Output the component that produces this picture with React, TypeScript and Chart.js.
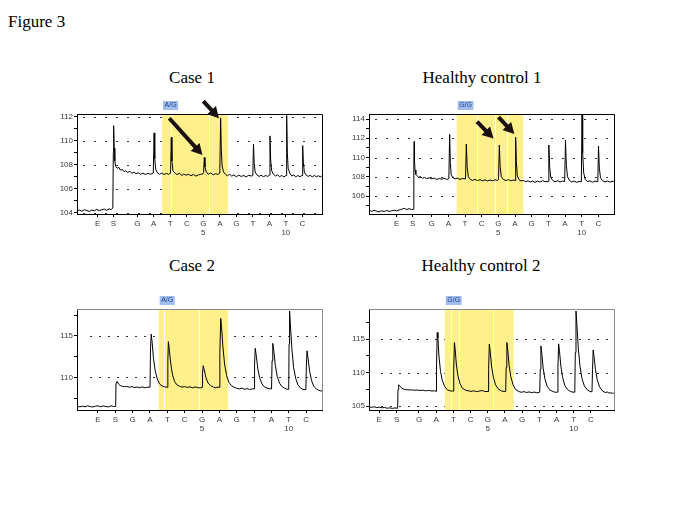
import React, { useEffect, useRef } from 'react';
import { Chart, registerables } from 'chart.js';

Chart.register(...registerables);

type Pt = [number, number];

// ---------- dispensation order (x tick labels) ----------
const dispensationOrder = ['E', 'S', 'G', 'A', 'T', 'C', 'G', 'A', 'G', 'T', 'A', 'T', 'C'];
const dispensationNumber = ['', '', '', '', '', '', '5', '', '', '', '', '10', ''];
const nucleotidePositions = [1, 2, 3, 4, 5, 6, 7, 8, 9, 10, 11];

// enzyme / substrate positions (the software spaces them differently per run)
const case1EnzymeSubstrate = [-1.4, -0.45];
const control1EnzymeSubstrate = [-1.1, -0.14];
const case2EnzymeSubstrate = [-1.0, 0.0];
const control2EnzymeSubstrate = [-1.31, -0.3];

// ---------- genotype calls ----------
const case1Genotype = 'A/G';
const control1Genotype = 'G/G';
const case2Genotype = 'A/G';
const control2Genotype = 'G/G';

// analysed (highlighted) dispensation range and separators inside it
const analysedRegion = [2.5, 6.5];
const case1Separators = [3.05, 5.35];
const control1Separators = [3.73, 4.8, 5.5];
const case2Separators = [2.83, 4.8];
const control2Separators = [2.88, 3.33, 5.28];

// ---------- y ticks ----------
const case1YTicks = [104, 105, 106, 107, 108, 109, 110, 111, 112];
const case1YLabels = [104, 106, 108, 110, 112];
const control1YTicks = [105, 106, 107, 108, 109, 110, 111, 112, 113, 114];
const control1YLabels = [106, 108, 110, 112, 114];
const case2YTicks = [107.5, 110, 112.5, 115, 117.5];
const case2YLabels = [110, 115];
const control2YTicks = [105, 107.5, 110, 112.5, 115, 117.5];
const control2YLabels = [105, 110, 115];

// ---------- arrows [fromX, fromY, toX, toY] in data units ----------
const case1Arrows = [[2.94, 111.87, 4.95, 108.8], [5.0, 113.3, 5.95, 111.87]];
const control1Arrows = [[3.72, 113.72, 4.71, 111.97], [5.01, 114.2, 5.96, 112.44]];

// ---------- pyrogram traces [x, signal] ----------
const case1Trace: Pt[] = [
  [-2.62, 104.15], [-2.5, 104.22], [-2.35, 104.12], [-2.2, 104.25], [-2.05, 104.18], [-1.9, 104.1],
  [-1.75, 104.22], [-1.6, 104.16], [-1.45, 104.28], [-1.3, 104.17], [-1.15, 104.24], [-1.0, 104.3],
  [-0.85, 104.2], [-0.7, 104.32], [-0.58, 104.26], [-0.48, 104.38], [-0.45, 109.0], [-0.43, 111.25],
  [-0.4, 109.4], [-0.36, 108.3], [-0.3, 107.85], [-0.22, 107.7], [-0.12, 107.78], [-0.02, 107.55],
  [0.1, 107.6], [0.2, 107.42], [0.3, 107.5], [0.42, 107.35], [0.55, 107.45], [0.68, 107.28],
  [0.8, 107.38], [0.92, 107.25], [1.05, 107.33], [1.2, 107.2], [1.35, 107.3], [1.5, 107.18],
  [1.65, 107.28], [1.8, 107.2], [1.97, 107.3], [2.02, 110.65], [2.06, 108.5], [2.12, 107.6],
  [2.22, 107.32], [2.35, 107.2], [2.48, 107.3], [2.62, 107.18], [2.78, 107.27], [2.9, 107.2],
  [3.02, 107.3], [3.06, 110.28], [3.1, 108.3], [3.16, 107.5], [3.28, 107.3], [3.4, 107.18],
  [3.55, 107.28], [3.7, 107.1], [3.82, 107.22], [3.95, 107.12], [4.1, 107.2], [4.25, 107.08],
  [4.4, 107.18], [4.55, 107.05], [4.7, 107.15], [4.85, 107.2], [4.97, 107.22], [5.02, 107.35],
  [5.06, 108.6], [5.1, 107.8], [5.18, 107.4], [5.3, 107.2], [5.45, 107.32], [5.6, 107.15],
  [5.75, 107.25], [5.88, 107.18], [6.0, 107.3], [6.05, 111.9], [6.09, 109.3], [6.14, 107.9],
  [6.22, 107.4], [6.34, 107.2], [6.46, 107.08], [6.6, 107.2], [6.72, 107.05], [6.85, 107.15],
  [7.0, 107.0], [7.15, 107.12], [7.3, 107.02], [7.45, 107.1], [7.6, 106.98], [7.75, 107.12],
  [7.9, 107.05], [8.0, 107.1], [8.04, 109.7], [8.08, 108.2], [8.14, 107.4], [8.25, 107.15],
  [8.38, 107.02], [8.5, 107.12], [8.64, 107.0], [8.78, 107.1], [8.9, 107.02], [9.0, 107.12],
  [9.04, 110.4], [9.08, 108.4], [9.14, 107.5], [9.25, 107.2], [9.38, 107.05], [9.5, 107.15],
  [9.62, 107.0], [9.75, 107.1], [9.88, 106.98], [10.01, 107.1], [10.05, 112.1], [10.09, 109.0],
  [10.14, 107.7], [10.24, 107.3], [10.36, 107.05], [10.48, 107.15], [10.6, 106.98], [10.72, 107.1],
  [10.85, 107.0], [10.98, 107.1], [11.02, 109.6], [11.06, 108.2], [11.12, 107.4], [11.22, 107.15],
  [11.35, 107.02], [11.48, 107.12], [11.6, 106.98], [11.72, 107.1], [11.85, 107.0], [11.98, 107.08],
  [12.08, 106.98], [12.18, 107.05],
];

const control1Trace: Pt[] = [
  [-2.73, 104.5], [-2.6, 104.4], [-2.45, 104.52], [-2.3, 104.42], [-2.15, 104.35], [-2.0, 104.47],
  [-1.85, 104.38], [-1.7, 104.5], [-1.55, 104.4], [-1.4, 104.46], [-1.25, 104.52], [-1.1, 104.45],
  [-0.95, 104.55], [-0.8, 104.62], [-0.65, 104.72], [-0.5, 104.6], [-0.35, 104.68], [-0.2, 104.6],
  [-0.09, 104.62], [-0.07, 109.0], [-0.05, 111.65], [-0.03, 109.6], [0.0, 108.7], [0.05, 108.25],
  [0.12, 108.1], [0.22, 107.95], [0.32, 108.02], [0.45, 107.85], [0.58, 107.92], [0.7, 107.8],
  [0.85, 107.9], [1.0, 107.78], [1.15, 107.86], [1.3, 107.72], [1.45, 107.82], [1.6, 107.74],
  [1.75, 107.84], [1.9, 107.72], [2.03, 107.8], [2.08, 112.4], [2.12, 109.5], [2.17, 108.2],
  [2.28, 107.9], [2.4, 107.78], [2.55, 107.86], [2.7, 107.72], [2.85, 107.82], [3.03, 107.78],
  [3.08, 111.4], [3.13, 109.0], [3.2, 108.0], [3.32, 107.72], [3.45, 107.62], [3.6, 107.72],
  [3.75, 107.6], [3.9, 107.7], [4.05, 107.58], [4.2, 107.68], [4.35, 107.56], [4.5, 107.66],
  [4.65, 107.58], [4.8, 107.68], [4.95, 107.62], [5.01, 107.7], [5.06, 111.3], [5.11, 109.0],
  [5.18, 108.0], [5.3, 107.72], [5.45, 107.6], [5.6, 107.7], [5.75, 107.58], [5.9, 107.66],
  [6.0, 107.6], [6.04, 112.1], [6.08, 109.6], [6.14, 108.1], [6.24, 107.7], [6.36, 107.56],
  [6.5, 107.62], [6.64, 107.48], [6.78, 107.58], [6.92, 107.45], [7.06, 107.55], [7.2, 107.42],
  [7.35, 107.56], [7.5, 107.44], [7.65, 107.6], [7.8, 107.48], [7.98, 107.52], [8.03, 111.3],
  [8.08, 109.0], [8.15, 107.9], [8.27, 107.6], [8.4, 107.48], [8.55, 107.58], [8.7, 107.46],
  [8.85, 107.55], [8.98, 107.5], [9.03, 111.8], [9.08, 109.2], [9.15, 108.0], [9.27, 107.6],
  [9.4, 107.45], [9.55, 107.55], [9.7, 107.42], [9.85, 107.52], [9.98, 107.48], [10.02, 114.4],
  [10.06, 110.5], [10.12, 108.4], [10.22, 107.7], [10.35, 107.5], [10.5, 107.58], [10.65, 107.42],
  [10.8, 107.55], [10.97, 107.48], [11.01, 111.2], [11.06, 108.9], [11.13, 107.9], [11.25, 107.58],
  [11.4, 107.46], [11.55, 107.56], [11.7, 107.44], [11.82, 107.54], [11.93, 107.5],
];

const case2Trace: Pt[] = [
  [-2.18, 106.5], [-2.05, 106.44], [-1.9, 106.52], [-1.75, 106.45], [-1.6, 106.56], [-1.45, 106.48],
  [-1.3, 106.43], [-1.15, 106.52], [-1.0, 106.56], [-0.85, 106.45], [-0.7, 106.55], [-0.55, 106.48],
  [-0.4, 106.43], [-0.25, 106.56], [-0.1, 106.48], [0.02, 106.5], [0.04, 109.2], [0.1, 109.5],
  [0.18, 109.2], [0.28, 109.02], [0.4, 108.92], [0.52, 108.86], [0.65, 108.92], [0.8, 108.8],
  [0.95, 108.88], [1.1, 108.76], [1.25, 108.84], [1.4, 108.75], [1.55, 108.84], [1.7, 108.74],
  [1.85, 108.82], [2.0, 108.8], [2.03, 113.5], [2.07, 115.2], [2.12, 114.3], [2.2, 112.3],
  [2.3, 110.8], [2.42, 109.8], [2.55, 109.2], [2.7, 108.95], [2.85, 108.85], [3.0, 108.8],
  [3.03, 112.0], [3.06, 114.3], [3.12, 113.2], [3.2, 111.6], [3.3, 110.3], [3.42, 109.5],
  [3.55, 109.1], [3.7, 108.92], [3.85, 108.82], [4.0, 108.88], [4.15, 108.78], [4.3, 108.86],
  [4.45, 108.74], [4.6, 108.84], [4.75, 108.76], [4.9, 108.72], [5.0, 108.8], [5.03, 110.5],
  [5.07, 111.4], [5.13, 110.9], [5.22, 110.0], [5.35, 109.3], [5.5, 109.0], [5.65, 108.82],
  [5.8, 108.74], [5.92, 108.82], [6.0, 108.8], [6.03, 113.0], [6.08, 117.1], [6.13, 116.0],
  [6.2, 113.8], [6.3, 111.6], [6.42, 110.2], [6.55, 109.4], [6.7, 109.0], [6.85, 108.8],
  [7.0, 108.68], [7.15, 108.6], [7.3, 108.7], [7.45, 108.56], [7.6, 108.64], [7.75, 108.52],
  [7.9, 108.62], [8.0, 108.6], [8.03, 111.5], [8.07, 113.5], [8.13, 112.6], [8.22, 111.0],
  [8.33, 109.9], [8.46, 109.2], [8.6, 108.85], [8.75, 108.7], [8.9, 108.62], [9.01, 108.6],
  [9.04, 112.0], [9.08, 114.1], [9.14, 113.2], [9.23, 111.4], [9.34, 110.1], [9.47, 109.3],
  [9.6, 108.9], [9.75, 108.7], [9.88, 108.58], [10.0, 108.55], [10.02, 114.0], [10.05, 118.0],
  [10.1, 116.2], [10.18, 113.5], [10.28, 111.2], [10.4, 109.9], [10.53, 109.1], [10.68, 108.7],
  [10.82, 108.55], [10.99, 108.5], [11.02, 111.5], [11.06, 113.2], [11.12, 112.2], [11.21, 110.7],
  [11.32, 109.6], [11.45, 108.9], [11.6, 108.6], [11.72, 108.45], [11.82, 108.38], [11.92, 108.35],
];

const control2Trace: Pt[] = [
  [-1.88, 104.9], [-1.75, 104.84], [-1.6, 104.92], [-1.45, 104.8], [-1.3, 104.86], [-1.15, 104.76],
  [-1.0, 104.82], [-0.85, 104.7], [-0.7, 104.76], [-0.55, 104.68], [-0.4, 104.75], [-0.24, 104.7],
  [-0.22, 107.5], [-0.18, 108.2], [-0.1, 107.95], [0.0, 107.7], [0.12, 107.55], [0.28, 107.48],
  [0.42, 107.42], [0.58, 107.45], [0.72, 107.38], [0.88, 107.42], [1.05, 107.35], [1.2, 107.4],
  [1.38, 107.3], [1.55, 107.36], [1.72, 107.28], [1.88, 107.3], [2.0, 107.22], [2.02, 111.0],
  [2.06, 116.0], [2.1, 115.2], [2.16, 112.5], [2.25, 110.2], [2.36, 108.8], [2.5, 107.9],
  [2.65, 107.45], [2.8, 107.3], [2.95, 107.25], [3.0, 107.25], [3.02, 110.5], [3.06, 114.5],
  [3.1, 113.6], [3.17, 111.3], [3.26, 109.6], [3.38, 108.4], [3.52, 107.7], [3.7, 107.4],
  [3.86, 107.3], [4.02, 107.22], [4.18, 107.3], [4.34, 107.18], [4.5, 107.26], [4.66, 107.35],
  [4.82, 107.2], [5.02, 107.2], [5.05, 110.5], [5.09, 114.25], [5.14, 113.2], [5.22, 111.0],
  [5.32, 109.4], [5.45, 108.2], [5.6, 107.6], [5.78, 107.3], [5.95, 107.2], [6.04, 107.2],
  [6.07, 110.8], [6.11, 114.5], [6.16, 113.4], [6.24, 111.1], [6.34, 109.4], [6.47, 108.2],
  [6.62, 107.5], [6.8, 107.2], [6.95, 107.08], [7.1, 107.18], [7.25, 107.05], [7.4, 107.14],
  [7.55, 107.02], [7.7, 107.12], [7.85, 107.0], [8.02, 107.1], [8.05, 110.5], [8.09, 114.0],
  [8.14, 112.9], [8.22, 110.7], [8.32, 109.1], [8.45, 108.0], [8.6, 107.45], [8.78, 107.2],
  [8.92, 107.08], [9.05, 107.1], [9.08, 110.8], [9.12, 114.3], [9.17, 113.2], [9.25, 111.0],
  [9.35, 109.3], [9.48, 108.1], [9.63, 107.5], [9.8, 107.2], [9.96, 107.1], [10.06, 107.1],
  [10.09, 113.0], [10.13, 119.2], [10.18, 117.3], [10.26, 113.8], [10.36, 111.0], [10.48, 109.1],
  [10.62, 108.0], [10.78, 107.45], [10.95, 107.2], [11.06, 107.15], [11.09, 110.5], [11.13, 113.4],
  [11.18, 112.4], [11.26, 110.5], [11.36, 109.0], [11.5, 107.9], [11.66, 107.3], [11.82, 107.05],
  [11.95, 107.12], [12.05, 106.95], [12.15, 107.02], [12.25, 106.92], [12.33, 106.98],
];

// ---------- layout ----------
type Panel = {
  title: string; titleX: number; titleY: number;
  left: number; top: number; width: number; height: number;
  xMin: number; xMax: number; yMin: number; yMax: number;
  es: number[]; trace: Pt[]; yTicks: number[]; yLabels: number[];
  genotype: string; separators: number[]; arrows: number[][];
  frame: string; dashGap: number; dashStart: number;
};

const panels: Panel[] = [
  {
    title: 'Case 1', titleX: 192, titleY: 78, left: 77, top: 114, width: 245, height: 100,
    xMin: -2.65, xMax: 12.19, yMin: 103.89, yMax: 112.225, es: case1EnzymeSubstrate, trace: case1Trace,
    yTicks: case1YTicks, yLabels: case1YLabels, genotype: case1Genotype, separators: case1Separators,
    arrows: case1Arrows, frame: '#000', dashGap: 9, dashStart: 6,
  },
  {
    title: 'Healthy control 1', titleX: 482, titleY: 78, left: 369, top: 114, width: 245, height: 100,
    xMin: -2.76, xMax: 11.94, yMin: 104.13, yMax: 114.52, es: control1EnzymeSubstrate, trace: control1Trace,
    yTicks: control1YTicks, yLabels: control1YLabels, genotype: control1Genotype, separators: control1Separators,
    arrows: control1Arrows, frame: '#000', dashGap: 9, dashStart: 6,
  },
  {
    title: 'Case 2', titleX: 192, titleY: 266, left: 77, top: 309, width: 245, height: 101,
    xMin: -2.21, xMax: 11.92, yMin: 106.06, yMax: 118.24, es: case2EnzymeSubstrate, trace: case2Trace,
    yTicks: case2YTicks, yLabels: case2YLabels, genotype: case2Genotype, separators: case2Separators,
    arrows: [], frame: '#8a8a8a', dashGap: 7, dashStart: 13,
  },
  {
    title: 'Healthy control 2', titleX: 481, titleY: 266, left: 369, top: 309, width: 245, height: 101,
    xMin: -1.907, xMax: 12.34, yMin: 104.44, yMax: 119.5, es: control2EnzymeSubstrate, trace: control2Trace,
    yTicks: control2YTicks, yLabels: control2YLabels, genotype: control2Genotype, separators: control2Separators,
    arrows: [], frame: '#8a8a8a', dashGap: 7, dashStart: 12,
  },
];

const PAD_L = 32;
const PAD_R = 8;
const PAD_T = 22;
const PAD_B = 30;
const SANS = '"Liberation Sans", Arial, sans-serif';
const SERIF = '"Liberation Serif", "Times New Roman", serif';

function drawArrow(ctx: CanvasRenderingContext2D, x1: number, y1: number, x2: number, y2: number) {
  const head = 11;
  const half = 6;
  const ang = Math.atan2(y2 - y1, x2 - x1);
  const cos = Math.cos(ang);
  const sin = Math.sin(ang);
  const hx = x2 - head * cos;
  const hy = y2 - head * sin;
  ctx.strokeStyle = '#1b1010';
  ctx.fillStyle = '#1b1010';
  ctx.lineWidth = 4;
  ctx.lineCap = 'butt';
  ctx.beginPath();
  ctx.moveTo(x1, y1);
  ctx.lineTo(hx + cos, hy + sin);
  ctx.stroke();
  ctx.beginPath();
  ctx.moveTo(x2, y2);
  ctx.lineTo(hx + half * sin, hy - half * cos);
  ctx.lineTo(hx - half * sin, hy + half * cos);
  ctx.closePath();
  ctx.fill();
}

function Pyrogram({ p }: { p: Panel }) {
  const ref = useRef<HTMLCanvasElement>(null);
  const cw = p.width + PAD_L + PAD_R;
  const ch = p.height + PAD_T + PAD_B;

  useEffect(() => {
    if (!ref.current) return;
    const xPositions = [...p.es, ...nucleotidePositions];
    const xLabels = dispensationOrder.map((b, i) => (dispensationNumber[i] ? [b, dispensationNumber[i]] : b));

    const overlay = {
      id: 'pyroOverlay',
      beforeDatasetsDraw(chart: any) {
        const { ctx, chartArea: a, scales } = chart;
        const x = scales.x;
        const y = scales.y;
        ctx.save();
        // dotted grid
        ctx.strokeStyle = '#333';
        ctx.lineWidth = 1;
        ctx.setLineDash([2, p.dashGap]);
        p.yLabels.forEach((v) => {
          const py = Math.round(y.getPixelForValue(v)) + 0.5;
          ctx.beginPath();
          ctx.moveTo(a.left + p.dashStart, py);
          ctx.lineTo(a.right - 2, py);
          ctx.stroke();
        });
        ctx.setLineDash([]);
        // analysed region
        const x0 = x.getPixelForValue(analysedRegion[0]);
        const x1 = x.getPixelForValue(analysedRegion[1]);
        ctx.fillStyle = 'rgb(255,240,140)';
        ctx.fillRect(x0, a.top, x1 - x0, a.bottom - a.top);
        ctx.strokeStyle = 'rgba(255,255,255,0.95)';
        ctx.lineWidth = 1;
        p.separators.forEach((v) => {
          const px = Math.round(x.getPixelForValue(v)) + 0.5;
          ctx.beginPath();
          ctx.moveTo(px, a.top);
          ctx.lineTo(px, a.bottom);
          ctx.stroke();
        });
        ctx.restore();
      },
      afterDatasetsDraw(chart: any) {
        const { ctx, chartArea: a, scales } = chart;
        const x = scales.x;
        const y = scales.y;
        ctx.save();
        // top & right frame
        ctx.strokeStyle = p.frame;
        ctx.lineWidth = 1;
        ctx.beginPath();
        ctx.moveTo(Math.round(a.left), Math.round(a.top) + 0.5);
        ctx.lineTo(Math.round(a.right) + 0.5, Math.round(a.top) + 0.5);
        ctx.lineTo(Math.round(a.right) + 0.5, Math.round(a.bottom));
        ctx.stroke();
        // genotype tag
        const gx = x.getPixelForValue(analysedRegion[0]) + 1;
        ctx.font = `7px ${SANS}`;
        const tw = ctx.measureText(p.genotype).width;
        ctx.fillStyle = 'rgb(160,190,236)';
        ctx.fillRect(gx, a.top - 13, tw + 3, 9);
        ctx.fillStyle = '#24408e';
        ctx.textBaseline = 'middle';
        ctx.textAlign = 'left';
        ctx.fillText(p.genotype, gx + 1.5, a.top - 8.5);
        // arrows
        p.arrows.forEach(([fx, fy, tx, ty]) => {
          drawArrow(ctx, x.getPixelForValue(fx), y.getPixelForValue(fy), x.getPixelForValue(tx), y.getPixelForValue(ty));
        });
        ctx.restore();
      },
    };

    const chart = new Chart(ref.current, {
      type: 'line',
      data: {
        datasets: [
          {
            data: p.trace.map(([x, y]) => ({ x, y })),
            borderColor: '#000',
            borderWidth: 1,
            pointRadius: 0,
            tension: 0,
            fill: false,
          },
        ],
      },
      options: {
        animation: false,
        responsive: false,
        maintainAspectRatio: false,
        parsing: false,
        normalized: true,
        layout: { padding: { left: 0, right: PAD_R, top: PAD_T, bottom: 0 } },
        plugins: { legend: { display: false }, tooltip: { enabled: false }, title: { display: false } },
        scales: {
          x: {
            type: 'linear',
            min: p.xMin,
            max: p.xMax,
            afterBuildTicks: (s: any) => {
              s.ticks = xPositions.map((v) => ({ value: v }));
            },
            afterFit: (s: any) => {
              s.height = PAD_B;
            },
            ticks: {
              autoSkip: false,
              maxRotation: 0,
              minRotation: 0,
              padding: 3,
              color: '#3a3a3a',
              font: { family: SANS, size: 8, lineHeight: 1.05 },
              callback: (_v: any, i: number) => xLabels[i] as any,
            },
            grid: { drawOnChartArea: false, drawTicks: true, tickLength: 3, tickColor: '#000', color: '#000' },
            border: { display: true, color: '#000', width: 1 },
          },
          y: {
            type: 'linear',
            min: p.yMin,
            max: p.yMax,
            afterBuildTicks: (s: any) => {
              s.ticks = p.yTicks.map((v) => ({ value: v }));
            },
            afterFit: (s: any) => {
              s.width = PAD_L;
            },
            ticks: {
              autoSkip: false,
              padding: 1,
              color: '#3a3a3a',
              font: { family: SANS, size: 8 },
              callback: (v: any) => (p.yLabels.includes(Number(v)) ? String(v) : ''),
            },
            grid: { drawOnChartArea: false, drawTicks: true, tickLength: 3, tickColor: '#000', color: '#000' },
            border: { display: true, color: '#000', width: 1 },
          },
        },
      },
      plugins: [overlay],
    });
    return () => chart.destroy();
  }, [p]);

  return (
    <canvas
      ref={ref}
      width={cw}
      height={ch}
      style={{ position: 'absolute', left: p.left - PAD_L, top: p.top - PAD_T, width: cw, height: ch }}
    />
  );
}

export default function App() {
  return (
    <div style={{ position: 'absolute', left: 0, top: 0, width: 685, height: 513, background: '#fff', overflow: 'hidden' }}>
      <div style={{ position: 'absolute', left: 8, top: 13, fontFamily: SERIF, fontSize: 17, lineHeight: '18px', color: '#000' }}>
        Figure 3
      </div>
      {panels.map((p) => (
        <div
          key={p.title + '-t'}
          style={{
            position: 'absolute',
            left: p.titleX - 120,
            width: 240,
            top: p.titleY - 11,
            textAlign: 'center',
            fontFamily: SERIF,
            fontSize: 17,
            lineHeight: '22px',
            color: '#000',
          }}
        >
          {p.title}
        </div>
      ))}
      {panels.map((p) => (
        <Pyrogram key={p.title} p={p} />
      ))}
    </div>
  );
}
